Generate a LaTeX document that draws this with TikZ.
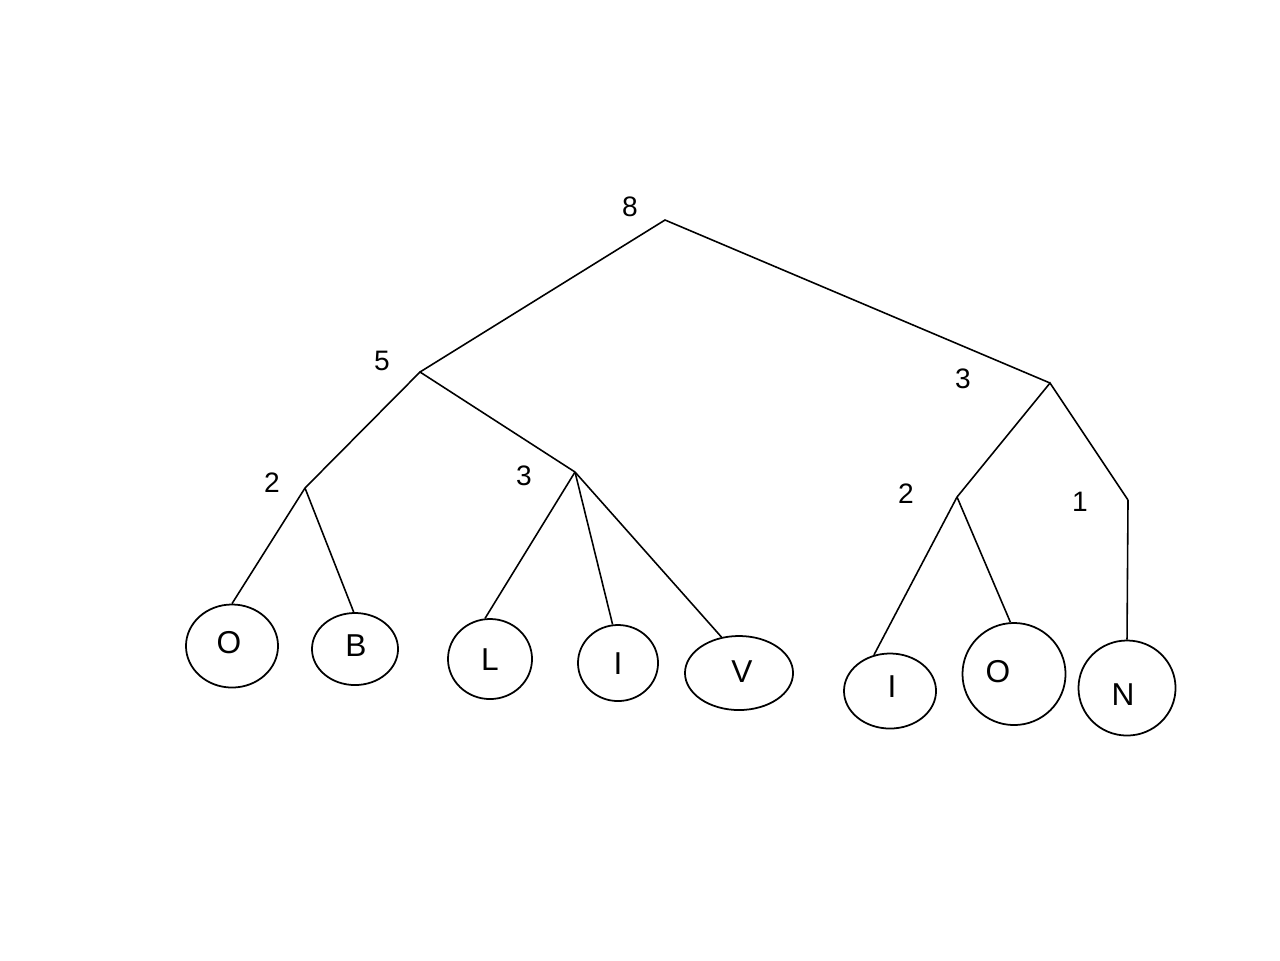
\documentclass[tikz,border=0pt]{standalone}
\usepackage{fontspec}
\setmainfont{Liberation Sans}
\usetikzlibrary{shapes.geometric}
\begin{document}
\begin{tikzpicture}[x=0.01cm,y=-0.01cm,
  edge/.style={line width=0.45pt},
  leaf/.style={ellipse,draw,line width=0.5pt,inner sep=0pt},
  ltr/.style={inner sep=0pt,font=\fontsize{9}{10}\selectfont},
  num/.style={inner sep=0pt,font=\fontsize{8}{9}\selectfont},
  pt/.style={inner sep=0pt,minimum size=0pt}]
\useasboundingbox (0,0) rectangle (1280,960);
% internal points
\coordinate (r) at (665,220);
\coordinate (a) at (420,372);
\coordinate (b) at (1050,383);
\coordinate (c) at (305,488);
\coordinate (d) at (575,472);
\coordinate (e) at (957,497);
\coordinate (f) at (1128,500);
% weights
\node[num] (w8) at (630,207) {8};
\node[num] (w5) at (382,361) {5};
\node[num] (w3r) at (963,379) {3};
\node[num] (w2) at (272,483) {2};
\node[num] (w3) at (524,476) {3};
\node[num] (w2r) at (906,494) {2};
\node[num] (w1) at (1080,502) {1};
% leaves
\node[leaf,minimum width=0.92cm,minimum height=0.83cm] (o1) at (232,646) {};
\node[leaf,minimum width=0.86cm,minimum height=0.72cm] (bb) at (355,649) {};
\node[leaf,minimum width=0.84cm,minimum height=0.80cm] (ll) at (490,659) {};
\node[leaf,minimum width=0.80cm,minimum height=0.76cm] (i1) at (618,663) {};
\node[leaf,minimum width=1.08cm,minimum height=0.74cm] (vv) at (739,673) {};
\node[leaf,minimum width=0.92cm,minimum height=0.75cm] (i2) at (890,691) {};
\node[leaf,minimum width=1.03cm,minimum height=1.02cm] (o2) at (1014,674) {};
\node[leaf,minimum width=0.97cm,minimum height=0.95cm] (nn) at (1127,688) {};
% letters
\node[ltr] (to1) at (229,643) {O};
\node[ltr] (tbb) at (356,646) {B};
\node[ltr] (tll) at (490,660) {L};
\node[ltr] (ti1) at (618,664) {I};
\node[ltr] (tvv) at (742,672) {V};
\node[ltr] (ti2) at (892,687) {I};
\node[ltr] (to2) at (998,672) {O};
\node[ltr] (tnn) at (1123,695) {N};
% edges
\draw[edge] (a) -- (r) -- (b);
\draw[edge] (c) -- (a) -- (d);
\draw[edge] (e) -- (b) -- (f);
\draw[edge] (c) -- (o1.90);
\draw[edge] (c) -- (bb.92);
\draw[edge] (d) -- (ll.97);
\draw[edge] (d) -- (i1.98);
\draw[edge] (d) -- (vv.116);
\draw[edge] (e) -- (i2.114);
\draw[edge] (e) -- (o2.94);
\draw[edge] (f) -- (nn.90);
\end{tikzpicture}
\end{document}
